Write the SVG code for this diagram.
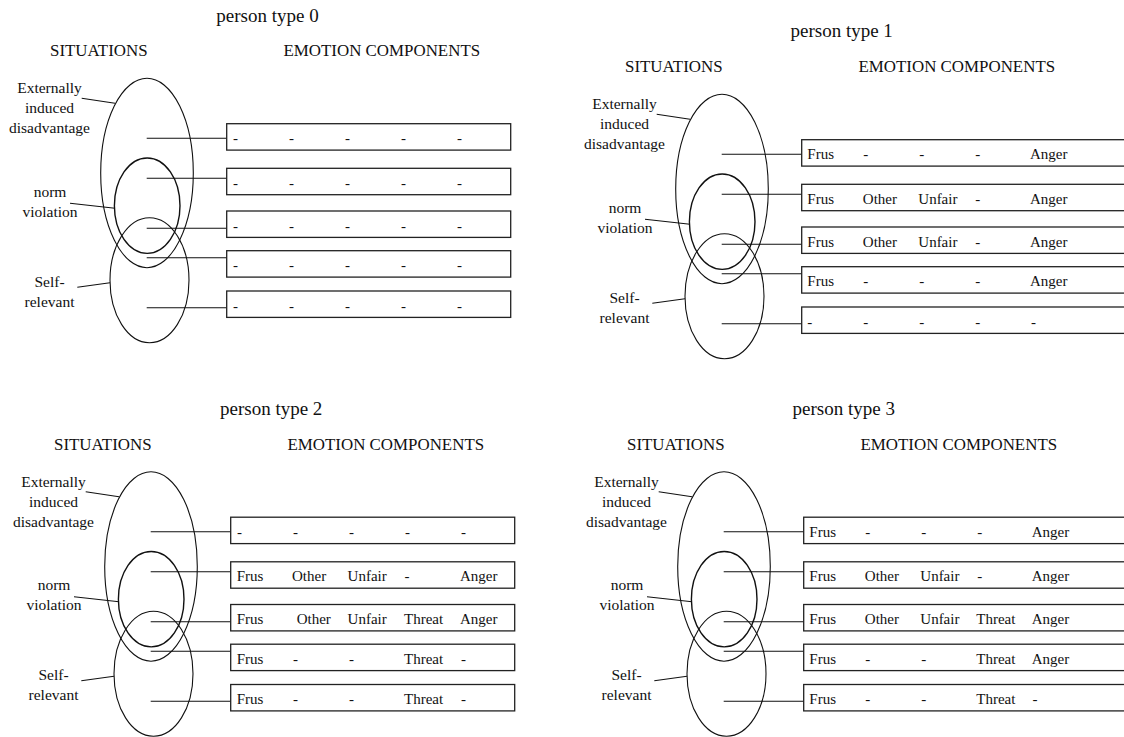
<svg xmlns="http://www.w3.org/2000/svg" width="1124" height="737" viewBox="0 0 1124 737" font-family="'Liberation Serif', 'Times New Roman', Times, serif">
<style>
.title{font-size:19px;text-anchor:middle;fill:#111}
.head{font-size:16.9px;text-anchor:middle;fill:#111}
.lab{font-size:15.5px;text-anchor:middle;fill:#111}
.cell{font-size:15px;fill:#111}
.set{fill:none;stroke:#111;stroke-width:1.1}
.norm{fill:none;stroke:#111;stroke-width:1.4}
.box{fill:#fff;stroke:#222;stroke-width:1.3}
.ln{stroke:#111;stroke-width:1.1;fill:none}
</style>
<defs>
<g id="base" font-family="'Liberation Serif', 'Times New Roman', Times, serif">
<text class="head" x="98.8" y="56">SITUATIONS</text>
<text class="head" x="381.8" y="56">EMOTION COMPONENTS</text>
<ellipse class="set" cx="147" cy="173" rx="46.3" ry="94.7"/>
<ellipse class="norm" cx="147.2" cy="205.7" rx="32.8" ry="47.7"/>
<ellipse class="set" cx="149.5" cy="280.2" rx="39.5" ry="62.5"/>
<text class="lab" x="49.5" y="93">Externally</text>
<text class="lab" x="49.5" y="113">induced</text>
<text class="lab" x="49.5" y="133">disadvantage</text>
<text class="lab" x="50" y="196.7">norm</text>
<text class="lab" x="50" y="216.7">violation</text>
<text class="lab" x="49.5" y="286.7">Self-</text>
<text class="lab" x="49.5" y="306.7">relevant</text>
<path class="ln" d="M81.7 98.3L115 103.3M70 203.3L115 208.3M77.3 287.3L110 282.7"/>
<path class="ln" d="M146.7 138.3H226.7M146.7 178.3H226.7M146.7 228.3H226.7M146.7 257.7H226.7M146.7 307.7H226.7"/>
</g>
</defs>

<g id="panel0">
<text class="title" x="267.5" y="22">person type 0</text>
<g id="p0-frame"><use href="#base"/></g>
<g id="p0-row1"><rect class="box" x="226.7" y="123.7" width="284" height="26.4"/><text class="cell" y="143.2"><tspan x="233">-</tspan><tspan x="289">-</tspan><tspan x="345">-</tspan><tspan x="401">-</tspan><tspan x="457">-</tspan></text></g>
<g id="p0-row2"><rect class="box" x="226.7" y="168.3" width="284" height="26.4"/><text class="cell" y="187.8"><tspan x="233">-</tspan><tspan x="289">-</tspan><tspan x="345">-</tspan><tspan x="401">-</tspan><tspan x="457">-</tspan></text></g>
<g id="p0-row3"><rect class="box" x="226.7" y="211" width="284" height="26.4"/><text class="cell" y="230.5"><tspan x="233">-</tspan><tspan x="289">-</tspan><tspan x="345">-</tspan><tspan x="401">-</tspan><tspan x="457">-</tspan></text></g>
<g id="p0-row4"><rect class="box" x="226.7" y="250.7" width="284" height="26.4"/><text class="cell" y="270.2"><tspan x="233">-</tspan><tspan x="289">-</tspan><tspan x="345">-</tspan><tspan x="401">-</tspan><tspan x="457">-</tspan></text></g>
<g id="p0-row5"><rect class="box" x="226.7" y="291" width="284" height="26.4"/><text class="cell" y="310.5"><tspan x="233">-</tspan><tspan x="289">-</tspan><tspan x="345">-</tspan><tspan x="401">-</tspan><tspan x="457">-</tspan></text></g>
</g>

<g id="panel1" transform="translate(575,16)">
<text class="title" x="266.7" y="21.3">person type 1</text>
<g id="p1-frame"><use href="#base"/></g>
<g id="p1-row1"><rect class="box" x="226.7" y="123.7" width="340" height="26.4"/><text class="cell" y="143.2"><tspan x="232.3">Frus</tspan><tspan x="288.3">-</tspan><tspan x="344.3">-</tspan><tspan x="400.3">-</tspan><tspan x="455">Anger</tspan></text></g>
<g id="p1-row2"><rect class="box" x="226.7" y="168.3" width="340" height="26.4"/><text class="cell" y="187.8"><tspan x="232.3">Frus</tspan><tspan x="287.8">Other</tspan><tspan x="343.3">Unfair</tspan><tspan x="400.3">-</tspan><tspan x="455">Anger</tspan></text></g>
<g id="p1-row3"><rect class="box" x="226.7" y="211" width="340" height="26.4"/><text class="cell" y="230.5"><tspan x="232.3">Frus</tspan><tspan x="287.8">Other</tspan><tspan x="343.3">Unfair</tspan><tspan x="400.3">-</tspan><tspan x="455">Anger</tspan></text></g>
<g id="p1-row4"><rect class="box" x="226.7" y="250.7" width="340" height="26.4"/><text class="cell" y="270.2"><tspan x="232.3">Frus</tspan><tspan x="288.3">-</tspan><tspan x="344.3">-</tspan><tspan x="400.3">-</tspan><tspan x="455">Anger</tspan></text></g>
<g id="p1-row5"><rect class="box" x="226.7" y="291" width="340" height="26.4"/><text class="cell" y="310.5"><tspan x="232.3">-</tspan><tspan x="288.3">-</tspan><tspan x="344.3">-</tspan><tspan x="400.3">-</tspan><tspan x="456">-</tspan></text></g>
</g>

<g id="panel2" transform="translate(4,393.5)">
<text class="title" x="267.2" y="21.5">person type 2</text>
<g id="p2-frame"><use href="#base"/></g>
<g id="p2-row1"><rect class="box" x="226.7" y="123.7" width="284" height="26.4"/><text class="cell" y="143.2"><tspan x="233">-</tspan><tspan x="289">-</tspan><tspan x="345">-</tspan><tspan x="401">-</tspan><tspan x="457">-</tspan></text></g>
<g id="p2-row2"><rect class="box" x="226.7" y="168.3" width="284" height="26.4"/><text class="cell" y="187.8"><tspan x="232.7">Frus</tspan><tspan x="288">Other</tspan><tspan x="343.6">Unfair</tspan><tspan x="400.6">-</tspan><tspan x="456">Anger</tspan></text></g>
<g id="p2-row3"><rect class="box" x="226.7" y="211" width="284" height="26.4"/><text class="cell" y="230.5"><tspan x="232.7">Frus</tspan><tspan x="292.7">Other</tspan><tspan x="343.6">Unfair</tspan><tspan x="400">Threat</tspan><tspan x="456">Anger</tspan></text></g>
<g id="p2-row4"><rect class="box" x="226.7" y="250.7" width="284" height="26.4"/><text class="cell" y="270.2"><tspan x="232.7">Frus</tspan><tspan x="289">-</tspan><tspan x="345">-</tspan><tspan x="400">Threat</tspan><tspan x="457">-</tspan></text></g>
<g id="p2-row5"><rect class="box" x="226.7" y="291" width="284" height="26.4"/><text class="cell" y="310.5"><tspan x="232.7">Frus</tspan><tspan x="289">-</tspan><tspan x="345">-</tspan><tspan x="400">Threat</tspan><tspan x="457">-</tspan></text></g>
</g>

<g id="panel3" transform="translate(577,393.5)">
<text class="title" x="266.8" y="21.5">person type 3</text>
<g id="p3-frame"><use href="#base"/></g>
<g id="p3-row1"><rect class="box" x="226.7" y="123.7" width="340" height="26.4"/><text class="cell" y="143.2"><tspan x="232.3">Frus</tspan><tspan x="288.3">-</tspan><tspan x="344.3">-</tspan><tspan x="400.3">-</tspan><tspan x="454.7">Anger</tspan></text></g>
<g id="p3-row2"><rect class="box" x="226.7" y="168.3" width="340" height="26.4"/><text class="cell" y="187.8"><tspan x="232.3">Frus</tspan><tspan x="287.8">Other</tspan><tspan x="343.3">Unfair</tspan><tspan x="400.3">-</tspan><tspan x="454.7">Anger</tspan></text></g>
<g id="p3-row3"><rect class="box" x="226.7" y="211" width="340" height="26.4"/><text class="cell" y="230.5"><tspan x="232.3">Frus</tspan><tspan x="287.8">Other</tspan><tspan x="343.3">Unfair</tspan><tspan x="399.3">Threat</tspan><tspan x="454.7">Anger</tspan></text></g>
<g id="p3-row4"><rect class="box" x="226.7" y="250.7" width="340" height="26.4"/><text class="cell" y="270.2"><tspan x="232.3">Frus</tspan><tspan x="288.3">-</tspan><tspan x="344.3">-</tspan><tspan x="399.3">Threat</tspan><tspan x="454.7">Anger</tspan></text></g>
<g id="p3-row5"><rect class="box" x="226.7" y="291" width="340" height="26.4"/><text class="cell" y="310.5"><tspan x="232.3">Frus</tspan><tspan x="288.3">-</tspan><tspan x="344.3">-</tspan><tspan x="399.3">Threat</tspan><tspan x="455.5">-</tspan></text></g>
</g>
</svg>
